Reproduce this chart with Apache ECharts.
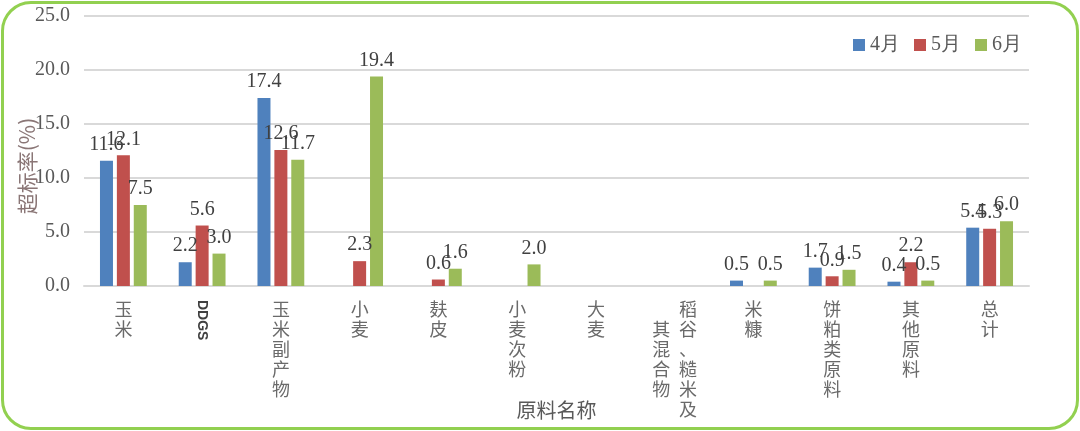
<!DOCTYPE html>
<html>
<head>
<meta charset="utf-8">
<script src="https://cdn.jsdelivr.net/npm/echarts@6/dist/echarts.min.js"></script>
<style>
html,body{margin:0;padding:0;background:#fff;}
#frame{position:absolute;left:1px;top:1px;width:1078px;height:429px;box-sizing:border-box;border:3px solid #92d050;border-radius:30px;}
#chart{position:absolute;left:0;top:0;width:1080px;height:431px;}
</style>
</head>
<body>
<div id="frame"></div>
<div id="chart"></div>
<script>
var categories = ['玉米','DDGS','玉米副产物','小麦','麸皮','小麦次粉','大麦','稻谷、糙米及其混合物','米糠','饼粕类原料','其他原料','总计'];
var seriesNames = ['4月','5月','6月'];
var aprValues = [11.6, 2.2, 17.4, 0, 0, 0, 0, 0, 0.5, 1.7, 0.4, 5.4];
var mayValues = [12.1, 5.6, 12.6, 2.3, 0.6, 0, 0, 0, 0, 0.9, 2.2, 5.3];
var junValues = [7.5, 3.0, 11.7, 19.4, 1.6, 2.0, 0, 0, 0.5, 1.5, 0.5, 6.0];
var yTicks = [0, 5, 10, 15, 20, 25];

var colors = ['#4f81bd', '#c0504d', '#9bbb59'];
var serif = '"Liberation Serif", "Times New Roman", serif';
var cjk = '"Noto Sans CJK SC", "Noto Sans", sans-serif';

function catLabel(v) {
  if (v === 'DDGS') return '';
  if (v === '稻谷、糙米及其混合物') {
    var right = '稻谷、糙米及'.split('');
    var left = ['\u3000', '其', '混', '合', '物', '\u3000'];
    var lines = [];
    for (var i = 0; i < right.length; i++) lines.push(left[i] + '\u2002' + right[i]);
    return lines.join('\n');
  }
  return v.split('').join('\n');
}

var chart = echarts.init(document.getElementById('chart'), null, {renderer: 'canvas'});
var vals = [aprValues, mayValues, junValues];
var series = seriesNames.map(function (n, i) {
  return {
    name: n,
    type: 'bar',
    data: vals[i],
    barWidth: 13,
    barGap: '30%',
    itemStyle: {color: colors[i]},
    label: {
      show: true,
      position: 'top',
      distance: 6,
      fontFamily: serif,
      fontSize: 20,
      color: '#404040',
      formatter: function (p) { return p.value === 0 ? '' : p.value.toFixed(1); }
    }
  };
});

chart.setOption({
  animation: false,
  color: colors,
  grid: {left: 84, right: 51, top: 16, bottom: 145, containLabel: false, outerBoundsMode: 'none'},
  legend: {
    data: seriesNames,
    right: 53,
    top: 30,
    itemWidth: 12,
    itemHeight: 12,
    itemGap: 14,
    icon: 'rect',
    textStyle: {fontFamily: serif, fontSize: 20, color: '#595959'}
  },
  xAxis: [{
    type: 'category',
    data: categories,
    name: '原料名称',
    nameLocation: 'middle',
    nameGap: 114,
    nameMoveOverlap: false,
    nameTextStyle: {fontFamily: cjk, fontSize: 20, color: '#595959'},
    axisLine: {lineStyle: {color: '#d9d9d9', width: 2}},
    axisTick: {show: false},
    axisLabel: {
      interval: 0,
      margin: 13,
      fontFamily: cjk,
      fontSize: 18,
      lineHeight: 20,
      color: '#6a6a6a',
      formatter: catLabel
    }
  }, {
    type: 'category',
    data: categories,
    position: 'bottom',
    axisLine: {show: false},
    axisTick: {show: false},
    splitLine: {show: false},
    axisLabel: {
      interval: 0,
      rotate: -90,
      margin: 14,
      fontFamily: '"Liberation Sans", Arial, sans-serif',
      fontWeight: 'bold',
      fontSize: 14,
      color: '#404040',
      formatter: function (v) { return v === 'DDGS' ? v : ''; }
    }
  }],
  yAxis: {
    type: 'value',
    min: yTicks[0],
    max: yTicks[yTicks.length - 1],
    interval: 5,
    name: '超标率(%)',
    nameLocation: 'middle',
    nameGap: 46,
    nameMoveOverlap: false,
    nameTextStyle: {fontFamily: cjk, fontSize: 21, color: '#8a7676', padding: [0, 30, 0, 0]},
    axisLine: {show: false},
    axisTick: {show: false},
    splitLine: {lineStyle: {color: '#d9d9d9', width: 2}},
    axisLabel: {
      margin: 14,
      fontFamily: serif,
      fontSize: 20,
      color: '#595959',
      formatter: function (v) { return v.toFixed(1); }
    }
  },
  series: series
});
</script>
</body>
</html>
